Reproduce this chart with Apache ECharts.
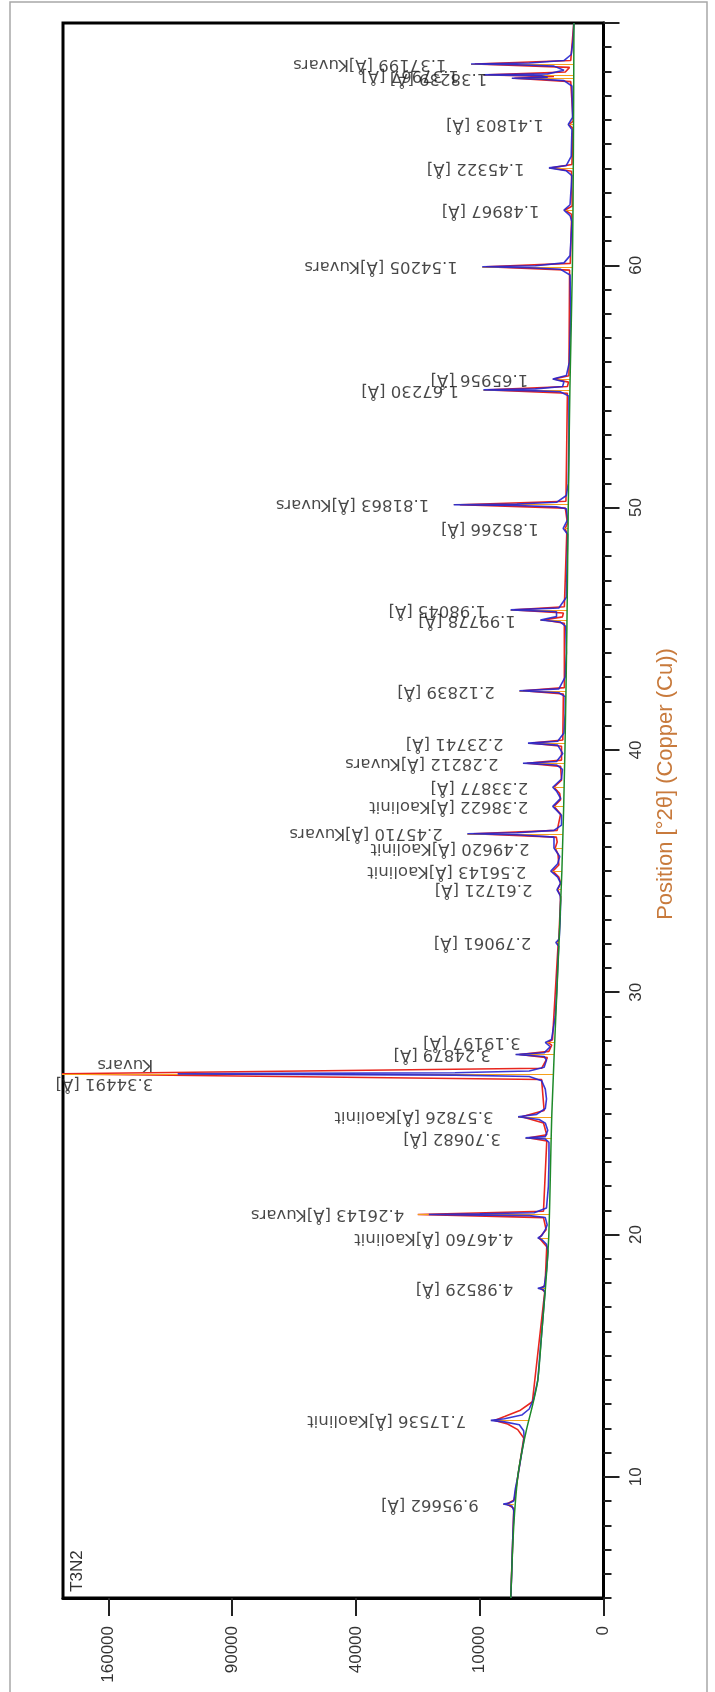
<!DOCTYPE html>
<html><head><meta charset="utf-8">
<script src="https://cdn.jsdelivr.net/npm/echarts@6/dist/echarts.min.js"></script>
<style>html,body{margin:0;padding:0;background:#fff}#c{width:715px;height:1692px}</style>
</head><body><div id="c"></div>
<script>
// ---- axis ticks ----
const countTicks = [0, 10000, 40000, 90000, 160000];
const countMax = 190600;
const posTicks = [10, 20, 30, 40, 50, 60];
const posMajorTicks = [10, 20, 30, 40, 50, 60, 70];
const posMin = 5, posMax = 70;

// ---- peaks: position (°2θ), label, observed tip, calculated tip, background under peak (counts) ----
const peakPos = [8.88, 12.33, 17.78, 19.86, 20.83, 23.99, 24.86, 26.63, 27.43, 27.93, 32.05, 34.23, 35.00, 35.95, 36.54, 37.67, 38.46, 39.45, 40.28, 42.44, 45.36, 45.78, 49.14, 50.12, 54.86, 55.31, 59.94, 62.28, 64.02, 65.81, 67.72, 67.86, 68.31];
const peakLabels = ["9.95662 [Å]", "7.17536 [Å]Kaolinit", "4.98529 [Å]", "4.46760 [Å]Kaolinit", "4.26143 [Å]Kuvars", "3.70682 [Å]", "3.57826 [Å]Kaolinit", "3.34491 [Å]\nKuvars", "3.24879 [Å]", "3.19197 [Å]", "2.79061 [Å]", "2.61721 [Å]", "2.56143 [Å]Kaolinit", "2.49620 [Å]Kaolinit", "2.45710 [Å]Kuvars", "2.38622 [Å]Kaolinit", "2.33877 [Å]", "2.28212 [Å]Kuvars", "2.23741 [Å]", "2.12839 [Å]", "1.99778 [Å]", "1.98045 [Å]", "1.85266 [Å]", "1.81863 [Å]Kuvars", "1.67230 [Å]", "1.65956 [Å]", "1.54205 [Å]Kuvars", "1.48967 [Å]", "1.45322 [Å]", "1.41803 [Å]", "1.38239 [Å]", "1.37967 [Å]", "1.37199 [Å]Kuvars"];
const obsTop = [6560, 8280, 2810, 2810, 19900, 3970, 4760, 118300, 5040, 2210, 1480, 1410, 1810, 1600, 12100, 1680, 1680, 4230, 3720, 4620, 2600, 5630, 1060, 14640, 9410, 1680, 9600, 1020, 1940, 810, 5480, 9410, 11450];
const calcTop = [6080, 7740, 2600, 2700, 22500, 3600, 4360, 202500, 4620, 2030, 1370, 1370, 1680, 1520, 11025, 1600, 1600, 3840, 3360, 4225, 2300, 5180, 960, 13460, 8650, 1600, 9025, 960, 1760, 780, 5180, 8650, 10820];
const baseAtPeak = [5250, 3600, 2200, 1960, 1890, 1760, 1750, 1640, 1600, 1570, 1300, 1175, 1130, 1095, 1075, 1037, 1011, 986, 967, 924, 870, 864, 818, 807, 740, 734, 630, 615, 600, 586, 576, 576, 576];

// ---- background (green) [2θ, counts] ----
const background = [[5,5610],[8,5250],[10,4800],[11,4360],[12,3840],[13,3260],[14,2815],[16,2480],[18,2170],[20,1950],[25,1740],[30,1420],[35,1130],[40,970],[45,875],[50,810],[55,735],[60,630],[65,590],[70,570]];

// ---- observed profile (blue) [2θ, counts] ----
const observed = [[5.0,5610],[6.0,5500],[7.0,5420],[8.0,5310],[8.6,5240],
[8.80,5480],[8.86,6240],[8.88,6560],[8.92,5780],[9.0,5260],
[9.5,5070],[10.0,4800],[11.0,4360],[11.6,4100],
[11.9,4160],[12.15,4620],[12.27,6400],[12.33,8280],[12.40,6400],[12.55,4360],[12.8,3600],[13.2,3190],
[14,2810],[15,2650],[16,2480],[17,2330],[17.6,2240],
[17.72,2350],[17.78,2810],[17.84,2300],
[18.5,2120],[19.3,2010],
[19.6,2120],[19.8,2500],[19.86,2810],[19.95,2500],[20.2,2210],[20.4,2070],[20.7,2210],
[20.78,3600],[20.81,12100],[20.83,19900],[20.86,10000],[20.9,3140],[21.1,2120],
[22,1980],[23,1940],[23.8,1940],
[23.94,2210],[23.99,3970],[24.04,2210],[24.3,2030],[24.6,2210],
[24.75,2700],[24.86,4760],[24.96,2920],[25.2,2210],[25.6,2120],[26.0,2210],[26.35,2500],
[26.52,3600],[26.58,14400],[26.61,62500],[26.63,118300],[26.65,62500],[26.68,14400],[26.75,3600],[26.9,2300],[27.2,2120],
[27.35,2300],[27.43,5040],[27.5,2300],
[27.75,1850],[27.93,2210],[28.05,1760],[29,1520],[30,1430],[31,1370],[31.9,1310],
[32.05,1480],[32.2,1280],[33,1225],[33.8,1200],
[34.0,1225],[34.23,1410],[34.5,1200],
[34.75,1370],[35.0,1810],[35.3,1370],[35.6,1250],
[35.8,1440],[35.95,1600],
[36.40,1600],[36.50,4900],[36.54,12100],[36.58,4900],[36.68,1600],[36.9,1150],[37.3,1150],
[37.67,1680],[38.0,1200],
[38.3,1440],[38.46,1680],[38.8,1150],[39.2,1100],
[39.38,1440],[39.45,4230],[39.52,1440],[39.85,1080],
[40.2,1370],[40.28,3720],[40.36,1370],[40.7,1020],[41.5,960],[42.2,960],
[42.36,1300],[42.44,4620],[42.52,1300],[43,960],[44,900],[45.1,930],
[45.28,1225],[45.36,2600],[45.5,1440],
[45.70,1440],[45.78,5630],[45.86,1300],[46.3,900],[47.5,870],[48.9,840],
[49.14,1060],[49.5,840],[49.95,900],
[50.03,1440],[50.09,4900],[50.12,14640],[50.15,4900],[50.22,1440],[50.5,900],[51,810],[53,780],[54.6,780],
[54.78,1225],[54.83,3600],[54.86,9410],[54.9,3025],[55.0,1090],[55.2,1020],
[55.31,1680],[55.45,900],[56,760],[58,700],[59.6,730],
[59.84,1225],[59.90,3600],[59.94,9600],[59.98,3025],[60.1,1020],[60.4,730],[61.8,650],
[62.05,730],[62.28,1020],[62.5,730],[63.7,650],
[63.9,900],[64.02,1940],[64.12,900],[64.5,680],[65.6,650],
[65.81,810],[66.1,625],[67.4,650],
[67.62,1020],[67.68,2500],[67.72,5480],[67.76,2030],
[67.82,2500],[67.86,9410],[67.90,2030],[68.05,1020],
[68.22,1600],[68.28,4900],[68.31,11450],[68.35,3600],[68.45,1020],[68.7,680],[69.3,600],[70,576]];

// ---- calculated profile (red) [2θ, counts] ----
const calculated = [[5,5610],[8.7,5250],[8.88,6080],[9.05,5200],
[11.6,4150],[11.95,4800],[12.18,6000],[12.33,7740],[12.5,6300],[12.75,4500],[13.1,3300],
[17.65,2250],[17.78,2600],[17.9,2230],
[19.5,2100],[19.86,2700],[20.2,2150],
[20.7,2350],[20.83,22500],[20.96,2350],
[23.86,2100],[23.99,3600],[24.12,2100],
[24.6,2350],[24.86,4360],[25.12,2300],
[26.4,2500],[26.63,202500],[26.86,2500],
[27.3,2050],[27.43,4620],[27.56,1950],
[27.82,1750],[27.93,2030],[28.04,1700],
[31.9,1350],[32.05,1370],[32.2,1300],
[33.95,1200],[34.23,1370],[34.5,1200],
[34.75,1300],[35.0,1680],[35.25,1300],
[35.7,1350],[35.95,1520],[36.2,1400],
[36.4,1450],[36.54,11025],[36.68,1400],
[37.35,1200],[37.67,1600],[37.95,1200],
[38.2,1250],[38.46,1600],[38.75,1150],
[39.32,1200],[39.45,3840],[39.58,1150],
[40.15,1150],[40.28,3360],[40.41,1080],
[42.31,1050],[42.44,4225],[42.57,1000],
[45.23,1000],[45.36,2300],[45.49,1100],[45.65,1050],[45.78,5180],[45.91,1000],
[48.95,880],[49.14,960],[49.35,850],
[49.98,950],[50.12,13460],[50.26,920],
[54.72,850],[54.86,8650],[55.0,850],[55.18,800],[55.31,1600],[55.44,780],
[59.8,750],[59.94,9025],[60.08,720],
[62.1,660],[62.28,960],[62.45,640],
[63.88,670],[64.02,1760],[64.16,650],
[65.65,610],[65.81,780],[65.95,600],
[67.58,700],[67.72,5180],[67.79,1600],[67.86,8650],[67.98,950],
[68.17,750],[68.31,10820],[68.45,700],[70,576]];

// ---- chart ----
const sq = v => Math.sqrt(v);
const toPts = arr => arr.map(p => [sq(p[1]), p[0]]);
const chart = echarts.init(document.getElementById('c'), null, {renderer: 'canvas'});
const tickStyle = {color: '#222', width: 2};
const option = {
  animation: false,
  grid: {left: 63, right: 111.5, top: 23, bottom: 94, show: true, borderColor: '#000', borderWidth: 3, backgroundColor: 'transparent'},
  xAxis: {
    type: 'value', inverse: true, min: 0, max: sq(countMax), position: 'bottom',
    axisLine: {show: true, onZero: false, lineStyle: {color: '#000', width: 3}},
    axisTick: {show: true, length: 18, customValues: countTicks.map(sq), lineStyle: tickStyle},
    axisLabel: {customValues: countTicks.map(sq), rotate: 90, margin: 28, formatter: v => String(Math.round(v * v)),
      fontFamily: 'Liberation Sans', fontSize: 17, color: '#333'},
    splitLine: {show: false}
  },
  yAxis: [
    {type: 'value', min: posMin, max: posMax, interval: 1, position: 'right',
      axisLine: {show: true, onZero: false, lineStyle: {color: '#000', width: 3}},
      axisTick: {show: true, length: 8, lineStyle: tickStyle},
      axisLabel: {customValues: posTicks, rotate: 90, margin: 24, fontFamily: 'Liberation Sans', fontSize: 17, color: '#333'},
      splitLine: {show: false}},
    {type: 'value', min: posMin, max: posMax, position: 'right',
      axisLine: {show: false, onZero: false},
      axisTick: {show: true, length: 16, customValues: posMajorTicks, lineStyle: tickStyle},
      axisLabel: {show: false}, splitLine: {show: false}}
  ],
  series: [
    {name: 'Calculated', type: 'line', data: toPts(calculated), symbol: 'none', z: 2, clip: true,
      lineStyle: {color: '#e8261e', width: 1.6}},
    {name: 'Sticks', type: 'lines', coordinateSystem: 'cartesian2d', clip: true, z: 3,
      lineStyle: {color: '#f5a01a', width: 1.2, opacity: 1},
      data: peakPos.map((p, i) => ({coords: [[sq(baseAtPeak[i]), p], [sq(Math.max(obsTop[i], calcTop[i])), p]]}))},
    {name: 'Observed', type: 'line', data: toPts(observed), symbol: 'none', z: 4, clip: true,
      lineStyle: {color: '#2424d0', width: 1.6, opacity: 0.9}},
    {name: 'Background', type: 'line', data: toPts(background), symbol: 'none', z: 5, smooth: 0.3,
      lineStyle: {color: '#1e8a2a', width: 1.5}},
    {name: 'Labels', type: 'scatter', symbolSize: 1, itemStyle: {color: 'rgba(0,0,0,0)'}, z: 10, silent: true,
      data: peakPos.map((p, i) => ({value: [sq(obsTop[i]), p], label: {formatter: peakLabels[i]}})),
      label: {show: true, rotate: 180, position: 'left', distance: 24, align: 'left', verticalAlign: 'middle',
        fontFamily: 'DejaVu Sans', fontSize: 16.5, lineHeight: 19, color: '#1a1a1a'}}
  ],
  graphic: [
    {type: 'rect', silent: true, z: -10, shape: {x: 10, y: 2, width: 697, height: 1720},
      style: {fill: 'transparent', stroke: '#a8a8a8', lineWidth: 1.5}},
    {type: 'text', x: 77, y: 1571, rotation: Math.PI / 2, silent: true,
      style: {text: 'T3N2', fontSize: 17, fontFamily: 'Liberation Sans', fill: '#333', align: 'center', verticalAlign: 'middle'}},
    {type: 'text', x: 666, y: 784, rotation: Math.PI / 2, silent: true,
      style: {text: 'Position [°2θ] (Copper (Cu))', fontSize: 22, fontFamily: 'Liberation Sans', fill: '#c87a3c', align: 'center', verticalAlign: 'middle'}}
  ]
};
chart.setOption(option);
</script></body></html>
